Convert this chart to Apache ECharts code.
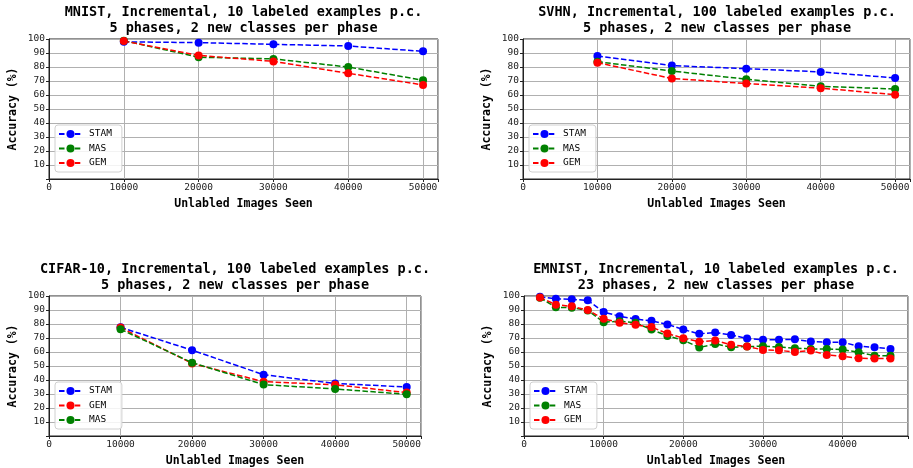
<!DOCTYPE html>
<html>
<head>
<meta charset="utf-8">
<script src="https://cdn.jsdelivr.net/npm/echarts@6/dist/echarts.min.js"></script>
<style>
  html, body { margin: 0; padding: 0; background: #fff; }
  #chart { width: 913px; height: 468px; }
</style>
</head>
<body>
<div id="chart"></div>
<script>
// x positions (unlabeled images seen)
const xFive = [10000, 20000, 30000, 40000, 50000];
const xEmnist = [2000, 4000, 6000, 8000, 10000, 12000, 14000, 16000, 18000, 20000, 22000, 24000,
                 26000, 28000, 30000, 32000, 34000, 36000, 38000, 40000, 42000, 44000, 46000];

// MNIST
const mnistStam = [98, 97.4, 96.2, 95, 91.2];
const mnistMas = [98.8, 87, 85.8, 80, 70.5];
const mnistGem = [98.5, 88.3, 84, 75.5, 67.2];

// SVHN
const svhnStam = [87.9, 81, 78.8, 76.5, 72.2];
const svhnMas = [83.8, 77.1, 71.3, 66.2, 64.3];
const svhnGem = [83.1, 71.8, 68.2, 64.9, 60.2];

// CIFAR-10
const cifarStam = [77.6, 61.3, 43.8, 37.5, 35];
const cifarGem = [77.5, 51.8, 38.8, 36.6, 31];
const cifarMas = [76.2, 52.4, 36.7, 33.6, 29.8];

// EMNIST
const emnistStam = [99.5, 98, 97.6, 96.9, 88.5, 85.6, 83.5, 82.3, 79.7, 76, 73, 73.9,
                    72.2, 69.6, 68.7, 68.7, 69.1, 67.5, 67, 67, 64.1, 63.4, 62.2];
const emnistMas = [98.8, 92, 91.6, 89.7, 81.3, 82, 80.9, 76, 71.5, 68.4, 63.2, 65.8,
                   63.4, 63.9, 64.1, 63.6, 62.7, 62.2, 62.2, 61.7, 59.8, 57.4, 57.4];
const emnistGem = [99, 93.8, 92.6, 90, 83.7, 80.9, 79.4, 77.8, 73.2, 69.9, 67.3, 68.2,
                   65.1, 63.9, 61.5, 61.2, 60, 61, 57.9, 56.9, 55.5, 55.3, 55.3];

const titles = [
  'MNIST, Incremental, 10 labeled examples p.c.\n5 phases, 2 new classes per phase',
  'SVHN, Incremental, 100 labeled examples p.c.\n5 phases, 2 new classes per phase',
  'CIFAR-10, Incremental, 100 labeled examples p.c.\n5 phases, 2 new classes per phase',
  'EMNIST, Incremental, 10 labeled examples p.c.\n23 phases, 2 new classes per phase'
];
const legendOrders = [
  ['STAM', 'MAS', 'GEM'],
  ['STAM', 'MAS', 'GEM'],
  ['STAM', 'GEM', 'MAS'],
  ['STAM', 'MAS', 'GEM']
];
const xMax = [52000, 52000, 52000, 48200];

const FONT = '"DejaVu Sans Mono", monospace';
const colors = { STAM: '#0000ff', MAS: '#008000', GEM: '#ff0000' };

const grids = [
  { left: 49, top: 39, width: 389, height: 140 },
  { left: 523, top: 39, width: 388, height: 140 },
  { left: 49, top: 296, width: 372, height: 140 },
  { left: 524, top: 296, width: 384, height: 140 }
];

function pairs(xs, ys) {
  return xs.map((x, i) => [x, ys[i]]);
}

const panels = [
  { xs: xFive, data: { STAM: mnistStam, MAS: mnistMas, GEM: mnistGem } },
  { xs: xFive, data: { STAM: svhnStam, MAS: svhnMas, GEM: svhnGem } },
  { xs: xFive, data: { STAM: cifarStam, GEM: cifarGem, MAS: cifarMas } },
  { xs: xEmnist, data: { STAM: emnistStam, MAS: emnistMas, GEM: emnistGem } }
];

const series = [];
panels.forEach((p, i) => {
  legendOrders[i].forEach(name => {
    series.push({
      name: name,
      type: 'line',
      xAxisIndex: i,
      yAxisIndex: i,
      data: pairs(p.xs, p.data[name]),
      symbol: 'circle',
      symbolSize: 8,
      showAllSymbol: true,
      itemStyle: { color: colors[name] },
      lineStyle: { color: colors[name], width: 1.5, type: [5.5, 2.4] },
      emphasis: { disabled: true },
      animation: false
    });
  });
});

const option = {
  backgroundColor: '#fff',
  animation: false,
  title: grids.map((g, i) => ({
    text: titles[i],
    left: g.left + g.width / 2,
    top: i < 2 ? 5 : 262,
    textAlign: 'center',
    padding: 0,
    textStyle: { fontFamily: FONT, fontSize: 13.5, fontWeight: 'bold', color: '#000', lineHeight: 15.5 }
  })),
  legend: grids.map((g, i) => ({
    data: legendOrders[i],
    orient: 'vertical',
    left: g.left + 6,
    top: g.top + 86,
    itemWidth: 23,
    itemHeight: 10,
    itemGap: 4.5,
    padding: [4, 10, 4, 3],
    backgroundColor: 'rgba(255,255,255,0.85)',
    borderColor: '#d0d0d0',
    borderWidth: 1,
    borderRadius: 3,
    selectedMode: false,
    textStyle: { fontFamily: FONT, fontSize: 9.5, color: '#000', padding: [0, 0, 0, 2] }
  })),
  grid: grids.map(g => Object.assign({ show: true, borderColor: '#222', borderWidth: 1, backgroundColor: 'transparent' }, g)),
  xAxis: grids.map((g, i) => ({
    type: 'value',
    gridIndex: i,
    min: 0,
    max: xMax[i],
    interval: 10000,
    name: 'Unlabled Images Seen',
    nameLocation: 'middle',
    nameGap: 19,
    nameTextStyle: { fontFamily: FONT, fontSize: 11.5, fontWeight: 'bold', color: '#000' },
    axisLine: { show: true, lineStyle: { color: '#222' } },
    axisTick: { show: true, length: 3, lineStyle: { color: '#222' } },
    axisLabel: {
      fontFamily: FONT, fontSize: 9.5, color: '#222', margin: 4,
      formatter: v => (v % 10000 === 0 ? String(v) : '')
    },
    splitLine: { show: true, lineStyle: { color: '#b0b0b0', width: 1 } }
  })),
  yAxis: grids.map((g, i) => ({
    type: 'value',
    gridIndex: i,
    min: 0,
    max: 100,
    interval: 10,
    name: 'Accuracy (%)',
    nameLocation: 'middle',
    nameGap: 30,
    nameTextStyle: { fontFamily: FONT, fontSize: 11.5, fontWeight: 'bold', color: '#000' },
    axisLine: { show: true, lineStyle: { color: '#222' } },
    axisTick: { show: true, length: 3, lineStyle: { color: '#222' } },
    axisLabel: {
      fontFamily: FONT, fontSize: 9.5, color: '#222', margin: 4,
      formatter: v => (v === 0 ? '' : String(v))
    },
    splitLine: { show: true, lineStyle: { color: '#b0b0b0', width: 1 } }
  })),
  series: series
};

const chart = echarts.init(document.getElementById('chart'), null, { renderer: 'canvas' });
chart.setOption(option);
</script>
</body>
</html>
